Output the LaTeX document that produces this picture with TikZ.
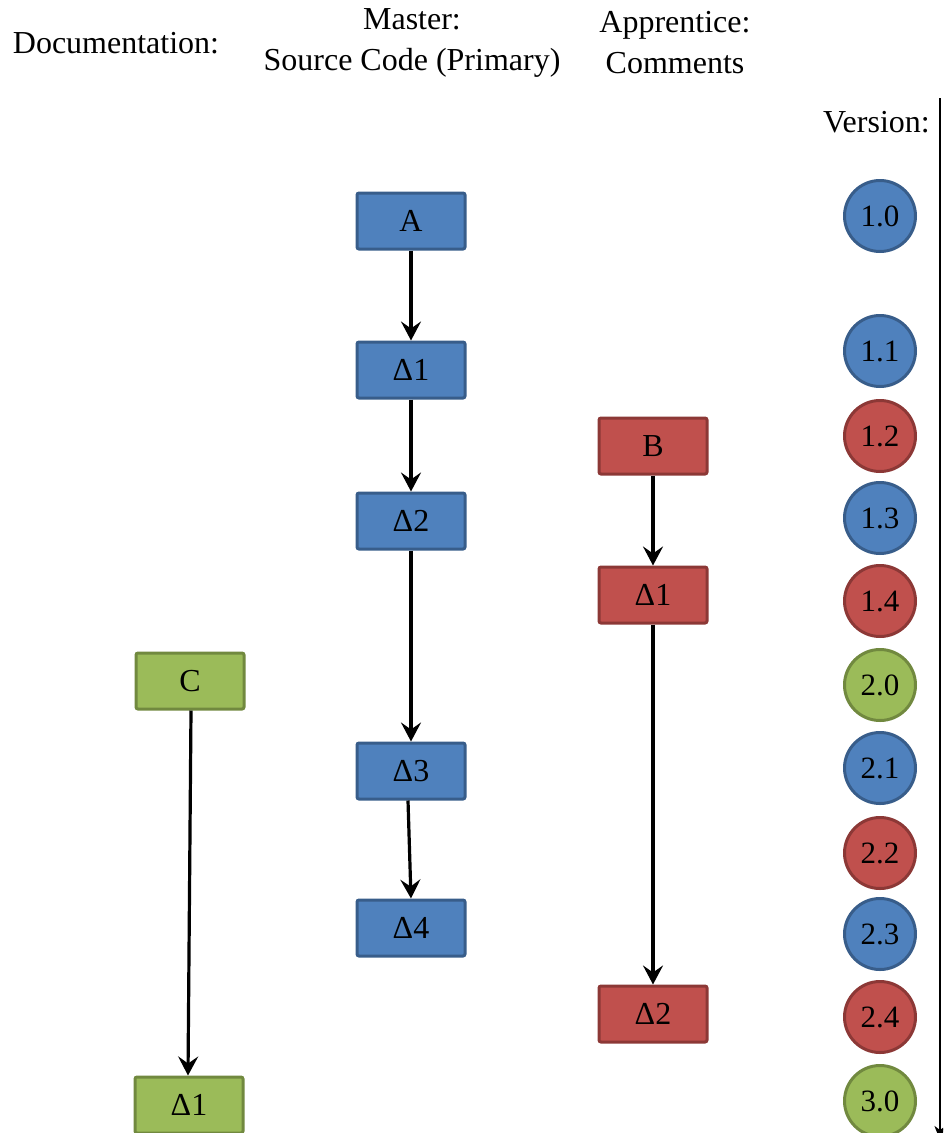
\documentclass[tikz,border=0pt]{standalone}
\usepackage{fontspec}
\setmainfont{Liberation Serif}
\usetikzlibrary{arrows.meta}

\definecolor{mblue}{HTML}{4F81BD}
\definecolor{mblueline}{HTML}{385D8A}
\definecolor{mred}{HTML}{C0504D}
\definecolor{mredline}{HTML}{8C3836}
\definecolor{mgreen}{HTML}{9BBB59}
\definecolor{mgreenline}{HTML}{71893F}

\tikzset{
  header/.style={align=center, font=\fontsize{32}{41}\selectfont, inner sep=0pt},
  rev/.style={rectangle, rounded corners=2pt, line width=3pt,
    minimum width=108pt, minimum height=56pt, inner sep=0pt,
    font=\fontsize{32}{36}\selectfont},
  bluebox/.style={rev, fill=mblue, draw=mblueline},
  redbox/.style={rev, fill=mred, draw=mredline},
  greenbox/.style={rev, fill=mgreen, draw=mgreenline},
  ver/.style={circle, line width=3pt, minimum size=71pt, inner sep=0pt,
    font=\fontsize{31}{36}\selectfont},
  bluever/.style={ver, fill=mblue, draw=mblueline},
  redver/.style={ver, fill=mred, draw=mredline},
  greenver/.style={ver, fill=mgreen, draw=mgreenline},
  flow/.style={line width=3.2pt, -{Stealth[length=19pt, width=20pt, inset=7pt]}},
}

\begin{document}
\begin{tikzpicture}[x=1pt, y=-1pt]
\useasboundingbox (0,0) rectangle (943,1133);
\clip (0,0) rectangle (943,1133);

% column headings
\node[header] (hdoc) at (116,43) {Documentation:};
\node[header] (hmaster) at (412,43) {Master:\\Source Code (Primary)};
\node[header] (happr) at (675,43) {Apprentice:\\Comments};
\node[header, anchor=east] (hver) at (930,122) {Version:};

% version axis
\coordinate (axtop) at (940,98);
\coordinate (axbot) at (940,1140);
\draw[line width=1.8pt, -{Stealth[length=14pt, width=11pt, inset=4pt]}] (axtop) -- (axbot);

% master: source code
\node[bluebox] (A)  at (411,221) {A};
\node[bluebox] (m1) at (411,370) {Δ1};
\node[bluebox] (m2) at (411,521) {Δ2};
\node[bluebox] (m3) at (411,771) {Δ3};
\node[bluebox] (m4) at (411,928) {Δ4};

% apprentice: comments
\node[redbox] (B)  at (653,446) {B};
\node[redbox] (a1) at (653,595) {Δ1};
\node[redbox] (a2) at (653,1014) {Δ2};

% documentation
\node[greenbox] (C)  at (190,681) {C};
\node[greenbox] (d1) at (189,1105) {Δ1};

% deltas
\draw[flow] (A) -- (m1);
\draw[flow] (m1) -- (m2);
\draw[flow] (m2) -- (m3);
\draw[flow] ([xshift=-3pt]m3.south) -- (m4.north);
\draw[flow] (B) -- (a1);
\draw[flow] (a1) -- (a2);
\draw[flow] ([xshift=1pt]C.south) -- ([xshift=-1pt]d1.north);

% versions
\node[bluever]  (v10) at (880,216)  {1.0};
\node[bluever]  (v11) at (880,351)  {1.1};
\node[redver]   (v12) at (880,436)  {1.2};
\node[bluever]  (v13) at (880,518)  {1.3};
\node[redver]   (v14) at (880,601)  {1.4};
\node[greenver] (v20) at (880,685)  {2.0};
\node[bluever]  (v21) at (880,768)  {2.1};
\node[redver]   (v22) at (880,853)  {2.2};
\node[bluever]  (v23) at (880,934)  {2.3};
\node[redver]   (v24) at (880,1017) {2.4};
\node[greenver] (v30) at (880,1101) {3.0};
\end{tikzpicture}
\end{document}
